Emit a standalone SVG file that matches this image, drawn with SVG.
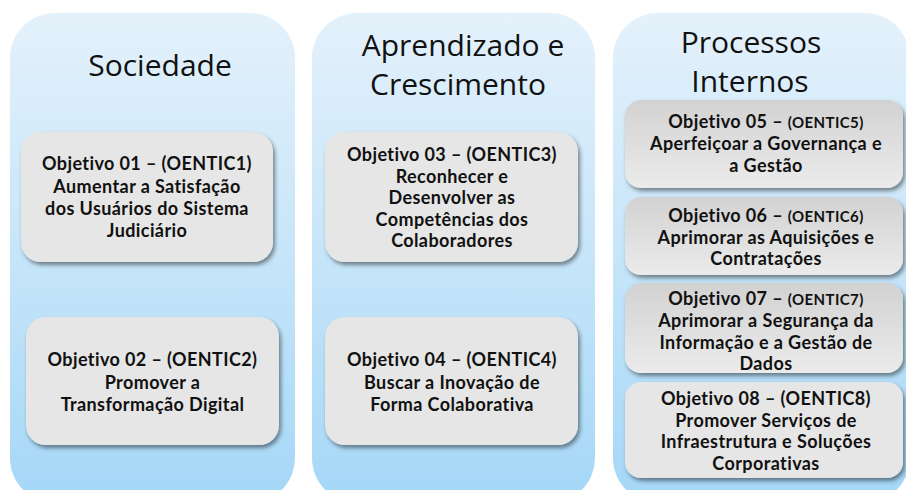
<svg xmlns="http://www.w3.org/2000/svg" width="906" height="490" viewBox="0 0 906 490">
<defs>
<linearGradient id="colg" x1="0" y1="0" x2="0" y2="1">
<stop offset="0" stop-color="#e4f1fb"/>
<stop offset="0.5" stop-color="#c6e5f9"/>
<stop offset="1" stop-color="#a4d7f7"/>
</linearGradient>
<linearGradient id="boxg" x1="0" y1="0" x2="0" y2="1">
<stop offset="0" stop-color="#e6e6e6"/>
<stop offset="1" stop-color="#e6e6e6"/>
</linearGradient>
<linearGradient id="boxg2" x1="0" y1="0" x2="0" y2="1">
<stop offset="0" stop-color="#d2d2d2"/>
<stop offset="1" stop-color="#ebebeb"/>
</linearGradient>
<filter id="sh" x="-10%" y="-10%" width="125%" height="130%">
<feDropShadow dx="2" dy="3" stdDeviation="2" flood-color="#000" flood-opacity="0.45"/>
</filter>
</defs>
<style>
.col{fill:url(#colg)}
.box{fill:url(#boxg);filter:url(#sh)}
.box2{fill:url(#boxg2);filter:url(#sh)}
.title{font-family:"Open Sans",sans-serif;font-size:30px;fill:#111;text-anchor:middle}
.t{font-family:Lato,"Open Sans",sans-serif;font-weight:bold;font-size:18px;letter-spacing:0.4px;fill:#111;text-anchor:middle}
.sm{font-size:15px}
</style>
<rect width="906" height="490" fill="#fff"/>
<g id="col-sociedade">
<rect class="col" x="10" y="13" width="285" height="490" rx="45"/>
<text class="title" x="160" y="76">Sociedade</text>
</g>
<g id="col-aprendizado">
<rect class="col" x="312" y="13" width="283" height="490" rx="45"/>
<text class="title" x="463" y="56">Aprendizado e</text>
<text class="title" x="458" y="95">Crescimento</text>
</g>
<g id="col-processos">
<rect class="col" x="613" y="13" width="297" height="490" rx="45"/>
<text class="title" x="751" y="53">Processos</text>
<text class="title" x="750" y="92">Internos</text>
</g>
<g id="connectors"></g>
<g id="obj01">
<rect class="box" x="21" y="132" width="252" height="130" rx="20"/>
<text class="t" x="147" y="170">Objetivo 01 – (OENTIC1)</text>
<text class="t" x="147" y="192.5">Aumentar a Satisfação</text>
<text class="t" x="147" y="215">dos Usuários do Sistema</text>
<text class="t" x="147" y="237">Judiciário</text>
</g>
<g id="obj02">
<rect class="box" x="26" y="317" width="253" height="128" rx="20"/>
<text class="t" x="152.5" y="366">Objetivo 02 – (OENTIC2)</text>
<text class="t" x="152.5" y="388.5">Promover a</text>
<text class="t" x="152.5" y="411">Transformação Digital</text>
</g>
<g id="obj03">
<rect class="box" x="325" y="132" width="253" height="130" rx="20"/>
<text class="t" x="452" y="161">Objetivo 03 – (OENTIC3)</text>
<text class="t" x="452" y="182.5">Reconhecer e</text>
<text class="t" x="452" y="204">Desenvolver as</text>
<text class="t" x="452" y="225.5">Competências dos</text>
<text class="t" x="452" y="247">Colaboradores</text>
</g>
<g id="obj04">
<rect class="box" x="325" y="317" width="253" height="128" rx="20"/>
<text class="t" x="452" y="366">Objetivo 04 – (OENTIC4)</text>
<text class="t" x="452" y="388.5">Buscar a Inovação de</text>
<text class="t" x="452" y="411">Forma Colaborativa</text>
</g>
<g id="obj05">
<rect class="box2" x="625" y="100" width="278" height="88" rx="16"/>
<text class="t" x="766" y="128">Objetivo 05 – <tspan class="sm">(OENTIC5)</tspan></text>
<text class="t" x="766" y="150">Aperfeiçoar a Governança e</text>
<text class="t" x="766" y="172">a Gestão</text>
</g>
<g id="obj06">
<rect class="box2" x="625" y="197" width="278" height="78" rx="16"/>
<text class="t" x="766" y="222">Objetivo 06 – <tspan class="sm">(OENTIC6)</tspan></text>
<text class="t" x="766" y="243.5">Aprimorar as Aquisições e</text>
<text class="t" x="766" y="265">Contratações</text>
</g>
<g id="obj07">
<rect class="box2" x="625" y="283" width="278" height="90" rx="16"/>
<text class="t" x="766" y="305">Objetivo 07 – <tspan class="sm">(OENTIC7)</tspan></text>
<text class="t" x="766" y="327">Aprimorar a Segurança da</text>
<text class="t" x="766" y="349">Informação e a Gestão de</text>
<text class="t" x="766" y="370">Dados</text>
</g>
<g id="obj08">
<rect class="box" x="625" y="382" width="278" height="96" rx="16"/>
<text class="t" x="766" y="405">Objetivo 08 – (OENTIC8)</text>
<text class="t" x="766" y="426.5">Promover Serviços de</text>
<text class="t" x="766" y="448">Infraestrutura e Soluções</text>
<text class="t" x="766" y="470">Corporativas</text>
</g>
</svg>
